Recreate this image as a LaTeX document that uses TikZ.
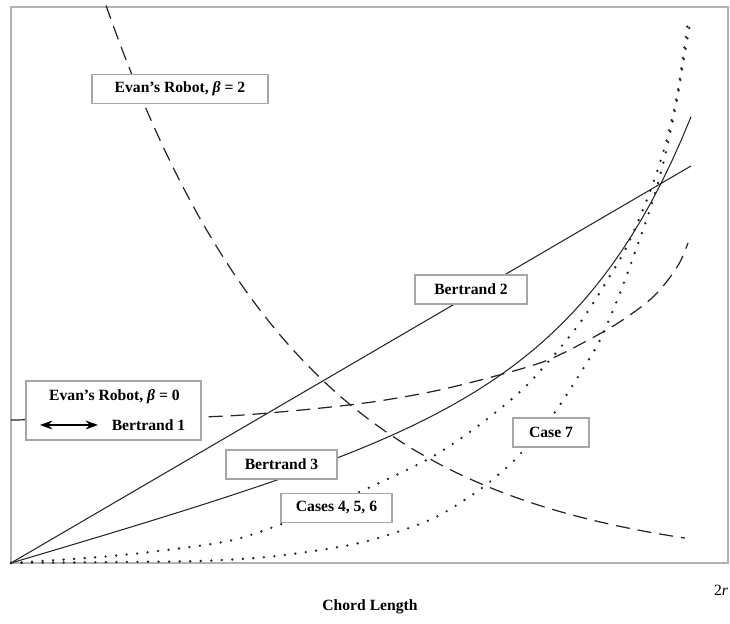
\documentclass[tikz,border=0pt]{standalone}
\usepackage{fontspec}
\setmainfont{Liberation Serif}
\usepackage{tikz}
\usetikzlibrary{arrows.meta}

\begin{document}
\begin{tikzpicture}[
                          x=0.02cm, y=-0.02cm,
                          labelbox/.style={rectangle, draw=gray!70, fill=white, line width=0.6pt, minimum height=0.58cm, inner sep=1pt, font=\fontsize{8.9}{10}\selectfont\bfseries},
                          plaintext/.style={inner sep=0pt, font=\fontsize{8.9}{10}\selectfont\bfseries},
                          solidcurve/.style={line width=0.6pt, black!85},
                          dashedcurve/.style={line width=0.7pt, black!85, dash pattern=on 8pt off 4.5pt},
                          dottedcurve/.style={line width=1.5pt, black!85, dash pattern=on 0pt off 6pt, line cap=round},
                          legendarrow/.style={{Stealth[length=7pt,width=5pt]}-{Stealth[length=7pt,width=5pt]}, line width=0.8pt},
                      ]
                      \useasboundingbox (0,0) rectangle (730,624);
                      % Frame
                      \draw[gray!60, line width=0.8pt] (11,7) rectangle (728,563);
                      \coordinate (origin) at (11,563);
                      \coordinate (bertrand_2_end) at (691,166);

                      %Curves
                      \draw[solidcurve] (origin) -- (bertrand_2_end);
                      \draw[solidcurve] plot[domain=11:691, samples=70] (\x, {563 - 0.29*(\x-11) - 0.627*(exp(0.0088*(\x-11)) - 1)});
                      \draw[dottedcurve] plot[smooth] coordinates {(origin) (100,557) (167,550) (233,540) (287,522) (340,500) (375,485) (432,457) (478,426) (522,390) (555,354) (582,320) (605,284) (625,250) (642,212) (656,175) (668,135) (678,90) (688,22)};
                      \draw[dottedcurve] plot[smooth] coordinates {(origin) (120,562) (200,561) (267,557) (333,548) (375,539) (432,519) (475,493) (505,469) (522,452) (555,412) (581,372) (600,340) (620,293) (638,244) (653,200) (664,160) (675,110) (682,70) (690,24)};
                      \draw[dashedcurve] plot[domain=106:685, samples=70] (\x, {563 - 413*exp(-0.005065*(\x-167)) + 5});
                      \draw[dashedcurve] plot[smooth] coordinates {(11,420) (201,417) (280,412) (365,403) (430,392) (488,378) (548,360) (603,332) (630,315) (652,298) (668,280) (680,262) (688,243)};

                      % Labels
                      \node[labelbox, minimum width=3.52cm] (robot_two)   at (180,89)    {Evan's Robot, \textit{β} = 2};
                      \node[labelbox, minimum width=2.24cm] (bertrand_2)  at (471,289.5) {Bertrand 2};
                      \node[labelbox, minimum width=2.22cm] (bertrand_3)  at (281.5,464.5) {Bertrand 3};
                      \node[labelbox, minimum width=2.22cm] (cases_456)   at (336.5,508) {Cases 4, 5, 6};
                      \node[labelbox, minimum width=1.52cm] (case_7)      at (551,432.5) {Case 7};

                      % Legend box
                      \node[labelbox, minimum width=3.5cm, minimum height=1.18cm] (robot_zero) at (113.5,410.5) {};
                      \node[plaintext] (robot_zero_text) at (114.5,397) {Evan's Robot, \textit{β} = 0};
                      \node[plaintext] (bertrand_1)      at (148.5,425) {Bertrand 1};
                      \coordinate (arrow_left)  at (40,425);
                      \coordinate (arrow_right) at (98,425);
                      \draw[legendarrow] (arrow_left) -- (arrow_right);

                      % Axis texts
                      \node[inner sep=0pt, font=\fontsize{8.9}{10}\selectfont] (two_r) at (721,590) {2\textit{r}};
                      \node[plaintext] (chord_length) at (370,607) {Chord Length};
                  \end{tikzpicture}
\end{document}
